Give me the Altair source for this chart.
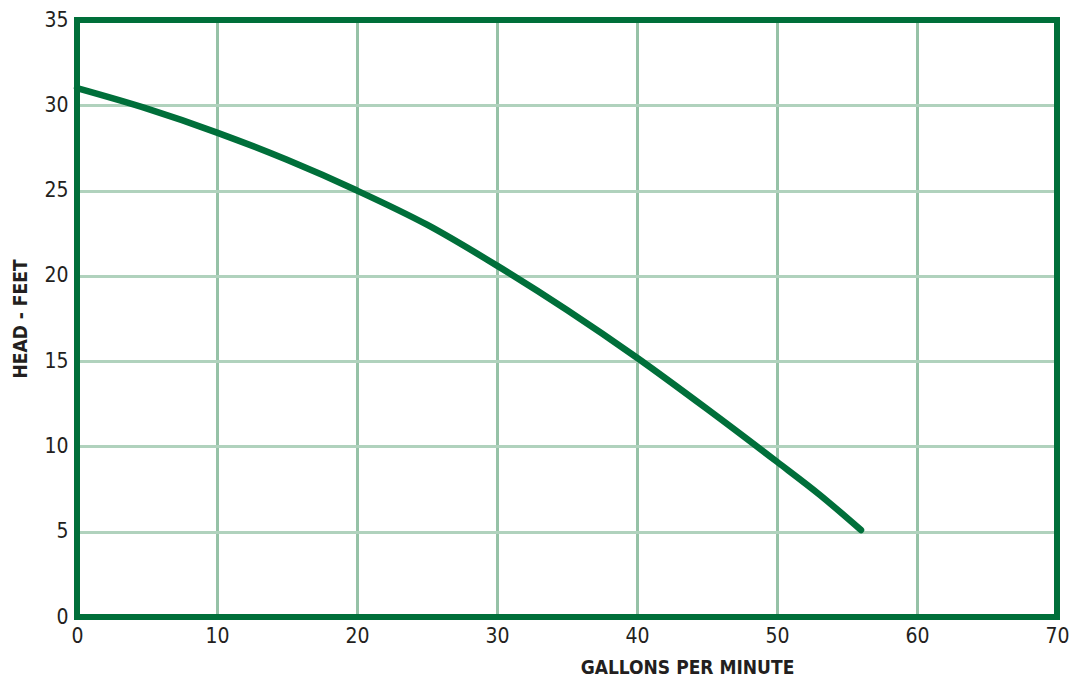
import altair as alt
import pandas as pd

gpm = [0, 5, 10, 15, 20, 25, 30, 35, 40, 45, 50, 53, 56]
head = [31.0, 29.8, 28.4, 26.8, 25.0, 23.0, 20.6, 18.0, 15.2, 12.2, 9.1, 7.2, 5.1]

df = pd.DataFrame({"gpm": gpm, "head": head})

FONT = "DejaVu Sans Condensed, Roboto, sans-serif"
GREEN = "#006f3a"
TEXT = "#231f20"
W, H = 980, 597

line = alt.Chart(df).mark_line(
    color=GREEN, strokeWidth=6.5, interpolate="monotone", strokeCap="round"
).encode(
    x=alt.X(
        "gpm:Q",
        scale=alt.Scale(domain=[0, 70], nice=False),
        axis=alt.Axis(
            values=[0, 10, 20, 30, 40, 50, 60, 70],
            title="GALLONS PER MINUTE",
            titleX=610,
            titleY=50,
            titleAlign="center",
            titleBaseline="middle",
            labelFlush=False,
        ),
    ),
    y=alt.Y(
        "head:Q",
        scale=alt.Scale(domain=[0, 35], nice=False),
        axis=alt.Axis(
            values=[0, 5, 10, 15, 20, 25, 30, 35],
            title="HEAD - FEET",
            titleX=-57,
            titleAlign="center",
            titleBaseline="middle",
        ),
    ),
)

frame = alt.Chart(df).mark_rect(
    filled=False, stroke=GREEN, strokeWidth=6
).encode(
    x=alt.value(0), x2=alt.value(W), y=alt.value(0), y2=alt.value(H)
)

chart = alt.layer(line, frame).properties(
    width=W,
    height=H,
    autosize=alt.AutoSizeParams(type="none"),
    padding={"left": 69, "top": 12, "right": 13, "bottom": 70},
).configure_view(
    stroke=None
).configure_axis(
    grid=True,
    gridWidth=3,
    gridOpacity=1,
    domain=False,
    ticks=False,
    labelFont=FONT,
    labelFontSize=21,
    labelColor=TEXT,
    labelPadding=9,
    titleFont=FONT,
    titleFontSize=19,
    titleFontWeight="bold",
    titleColor=TEXT,
).configure_axisX(
    labelPadding=8,
    gridColor="#96c2a7",
).configure_axisY(
    gridColor="#b0d2bd",
)

chart.save("out.html", embed_options={"renderer": "svg", "actions": False})
